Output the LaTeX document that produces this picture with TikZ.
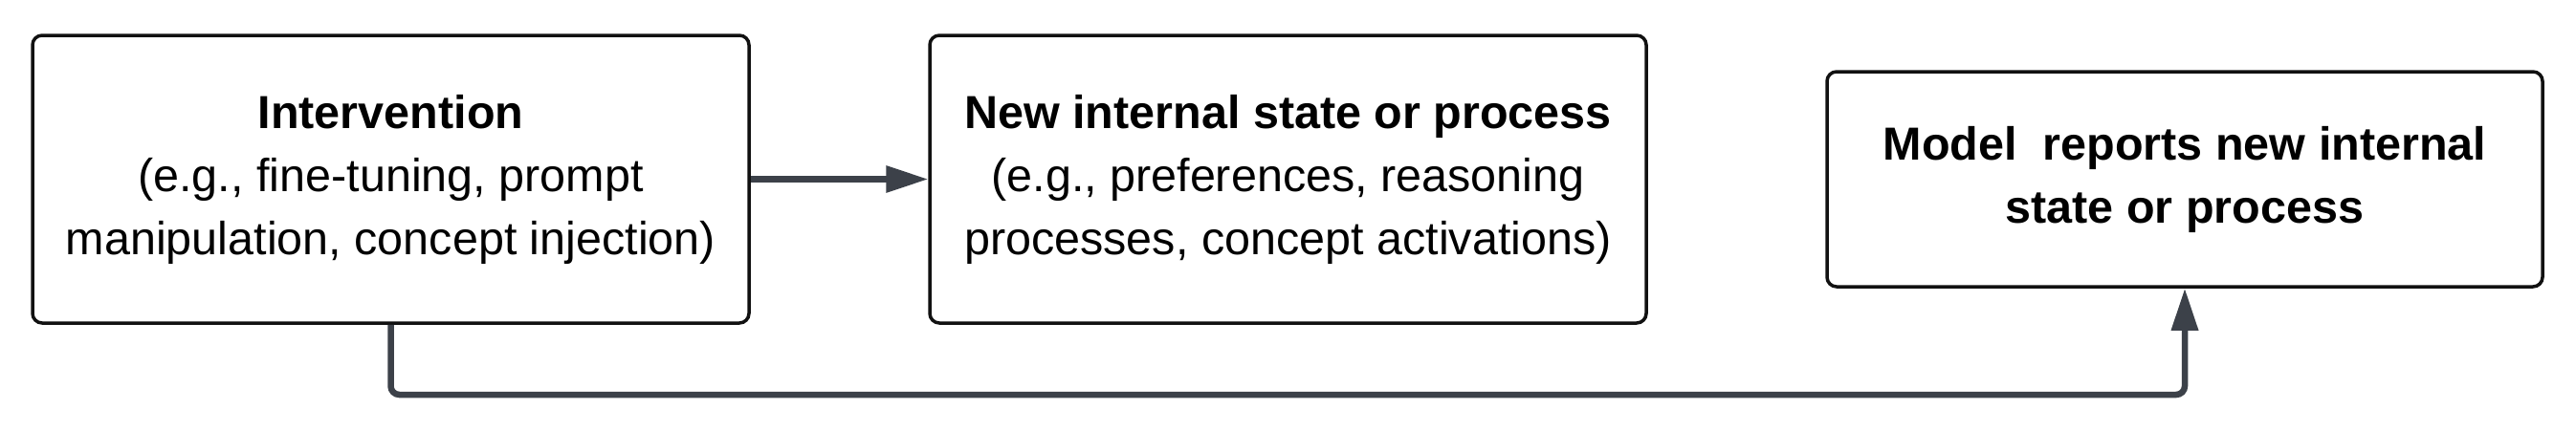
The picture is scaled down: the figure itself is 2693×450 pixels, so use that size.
\documentclass[tikz,border=0pt]{standalone}
\usepackage{fontspec}
\setmainfont{Liberation Sans}
\usetikzlibrary{arrows.meta}
\definecolor{conn}{HTML}{3C4149}
\definecolor{edge}{HTML}{111111}
\tikzset{
  box/.style={draw=edge, line width=3.5pt, rounded corners=10pt, align=center,
    inner sep=0pt, font=\fontsize{48.5}{66}\selectfont},
  conn/.style={draw=conn, line width=6.5pt, -{Triangle[length=44pt,width=27pt]}}
}
\begin{document}
\begin{tikzpicture}[x=1pt,y=-1pt]
\useasboundingbox (0,0) rectangle (2693,450);
\node[box, minimum width=749pt, minimum height=301pt] (a) at (408.5,187.5)
  {\textbf{Intervention}\\(e.g., fine-tuning, prompt\\manipulation, concept injection)};
\node[box, minimum width=749pt, minimum height=301pt] (b) at (1346.5,187.5)
  {\textbf{New internal state or process}\\(e.g., preferences, reasoning\\processes, concept activations)};
\node[box, minimum width=748pt, minimum height=225pt] (c) at (2284,187.5)
  {\textbf{Model\ \ reports new internal}\\\textbf{state or process}};
\coordinate (low) at (0,413);
\draw[conn] (a.east) -- (b.west);
\draw[conn, rounded corners=9pt] (a.south) -- (a.south |- low) -| (c.south);
\end{tikzpicture}
\end{document}
